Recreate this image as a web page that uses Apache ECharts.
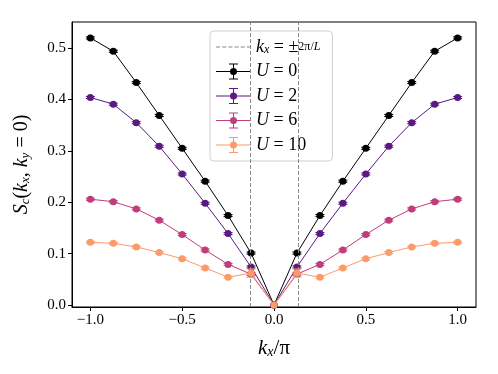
<!DOCTYPE html>
<html>
<head>
<meta charset="utf-8">
<script src="https://cdn.jsdelivr.net/npm/echarts@6/dist/echarts.min.js"></script>
<style>html,body{margin:0;padding:0;background:#fff}#main{width:498px;height:374px}</style>
</head>
<body>
<div id="main"></div>
<script>
// k_x / pi 取值
var kx = [-1, -0.875, -0.75, -0.625, -0.5, -0.375, -0.25, -0.125, 0, 0.125, 0.25, 0.375, 0.5, 0.625, 0.75, 0.875, 1];
var u0 = [0.520, 0.494, 0.433, 0.369, 0.305, 0.241, 0.174, 0.101, 0, 0.101, 0.174, 0.241, 0.305, 0.369, 0.433, 0.494, 0.520];
var u2 = [0.404, 0.391, 0.355, 0.309, 0.255, 0.198, 0.139, 0.074, 0, 0.074, 0.139, 0.198, 0.255, 0.309, 0.355, 0.391, 0.404];
var u6 = [0.206, 0.201, 0.187, 0.165, 0.137, 0.107, 0.079, 0.060, 0, 0.060, 0.079, 0.107, 0.137, 0.165, 0.187, 0.201, 0.206];
var u10 = [0.122, 0.120, 0.113, 0.102, 0.090, 0.072, 0.054, 0.062, 0, 0.062, 0.054, 0.072, 0.090, 0.102, 0.113, 0.120, 0.122];
var e0 = [0.002, 0.002, 0.002, 0.002, 0.002, 0.002, 0.002, 0.002, 0, 0.002, 0.002, 0.002, 0.002, 0.002, 0.002, 0.002, 0.002];
var e2 = [0.002, 0.002, 0.002, 0.002, 0.002, 0.002, 0.002, 0.002, 0, 0.002, 0.002, 0.002, 0.002, 0.002, 0.002, 0.002, 0.002];
var e6 = [0.002, 0.002, 0.002, 0.002, 0.002, 0.002, 0.002, 0.003, 0, 0.003, 0.002, 0.002, 0.002, 0.002, 0.002, 0.002, 0.002];
var e10 = [0.002, 0.002, 0.002, 0.002, 0.002, 0.002, 0.002, 0.008, 0, 0.008, 0.002, 0.002, 0.002, 0.002, 0.002, 0.002, 0.002];
var vlines = [-0.125, 0.125];
var xTicks = [-1, -0.5, 0, 0.5, 1];
var yTicks = [0, 0.1, 0.2, 0.3, 0.4, 0.5];

var names = ['U0', 'U2', 'U6', 'U10'];
var colors = ['#000000', '#5a1a82', '#c23b7a', '#fc9a6a'];
var ys = [u0, u2, u6, u10];
var errs = [e0, e2, e6, e10];

var serif = 'Liberation Serif';
var ebIcon = 'path://M0,7.5 H35 V8.5 H0 Z M17,0 H18 V16 H17 Z M13,0 H22 V1 H13 Z M13,15 H22 V16 H13 Z M17.5,4.5 A3.5,3.5 0 1,1 17.5,11.5 A3.5,3.5 0 1,1 17.5,4.5 Z';
var dashIcon = 'path://M0,0 H4 V1 H0 Z M6,0 H10 V1 H6 Z M12,0 H16 V1 H12 Z M18,0 H22 V1 H18 Z M24,0 H28 V1 H24 Z M30,0 H34 V1 H30 Z';

function fmt(v) {
    return (v < 0 ? '\u2212' : '') + Math.abs(v).toFixed(1);
}

var series = [{
    name: 'kx',
    type: 'line',
    data: [],
    symbol: 'none',
    itemStyle: { color: '#888' },
    lineStyle: { color: '#888', type: [4, 2], width: 1 },
    markLine: {
        silent: true,
        symbol: 'none',
        label: { show: false },
        lineStyle: { color: '#888', type: [4, 2], width: 1 },
        data: vlines.map(function (v) { return { xAxis: v }; })
    }
}];

names.forEach(function (n, i) {
    var pts = kx.map(function (x, j) { return [x, ys[i][j]]; });
    series.push({
        name: n,
        type: 'line',
        data: pts,
        symbol: 'circle',
        symbolSize: 7,
        color: colors[i],
        lineStyle: { width: 1, color: colors[i] },
        itemStyle: { color: colors[i] },
        z: 3 + i
    });
    series.push({
        name: n,
        type: 'custom',
        data: kx.map(function (x, j) { return [x, ys[i][j], errs[i][j]]; }),
        encode: { x: 0, y: 1 },
        z: 3 + i,
        renderItem: function (params, api) {
            var x = api.value(0), y = api.value(1), e = api.value(2);
            if (!e) return null;
            var top = api.coord([x, y + e]);
            var bot = api.coord([x, y - e]);
            var st = { stroke: colors[i], lineWidth: 1 };
            return {
                type: 'group',
                children: [
                    { type: 'line', shape: { x1: top[0], y1: top[1], x2: bot[0], y2: bot[1] }, style: st },
                    { type: 'line', shape: { x1: top[0] - 4.5, y1: top[1], x2: top[0] + 4.5, y2: top[1] }, style: st },
                    { type: 'line', shape: { x1: bot[0] - 4.5, y1: bot[1], x2: bot[0] + 4.5, y2: bot[1] }, style: st }
                ]
            };
        }
    });
});

var legendText = {
    kx: '{i|k}{s|x}{n| = \u00b1}{f|2\u03c0/}{fi|L}',
    U0: '{i|U}{n| = 0}',
    U2: '{i|U}{n| = 2}',
    U6: '{i|U}{n| = 6}',
    U10: '{i|U}{n| = 10}'
};

var myChart = echarts.init(document.getElementById('main'));
var option = {
    animation: false,
    textStyle: { fontFamily: serif },
    grid: {
        left: 72, right: 22, top: 22, bottom: 67,
        show: true, borderColor: '#000', borderWidth: 1
    },
    legend: {
        orient: 'vertical',
        left: 210,
        top: 31,
        itemWidth: 35,
        itemHeight: 16,
        itemGap: 6.5,
        padding: [7, 12, 7, 6],
        backgroundColor: 'rgba(255,255,255,0.8)',
        borderColor: '#d0d0d0',
        borderWidth: 1,
        borderRadius: 4,
        selectedMode: false,
        data: [
            { name: 'kx', icon: dashIcon, itemStyle: { color: '#888' } },
            { name: 'U0', icon: ebIcon },
            { name: 'U2', icon: ebIcon },
            { name: 'U6', icon: ebIcon },
            { name: 'U10', icon: ebIcon }
        ],
        formatter: function (n) { return legendText[n]; },
        textStyle: {
            rich: {
                i: { fontFamily: serif, fontStyle: 'italic', fontSize: 18, color: '#000' },
                n: { fontFamily: serif, fontSize: 18, color: '#000' },
                s: { fontFamily: serif, fontStyle: 'italic', fontSize: 12, color: '#000', verticalAlign: 'bottom', padding: [6, 0, 0, 0] },
                f: { fontFamily: serif, fontSize: 12, color: '#000' },
                fi: { fontFamily: serif, fontStyle: 'italic', fontSize: 12, color: '#000' }
            }
        }
    },
    xAxis: {
        type: 'value',
        min: -1.1,
        max: 1.1,
        name: '{i|k}{s|x}{n|/\u03c0}',
        nameLocation: 'middle',
        nameGap: 30,
        nameTextStyle: {
            rich: {
                i: { fontFamily: serif, fontStyle: 'italic', fontSize: 21, color: '#000' },
                n: { fontFamily: serif, fontSize: 21, color: '#000' },
                s: { fontFamily: serif, fontStyle: 'italic', fontSize: 14, color: '#000', verticalAlign: 'bottom', padding: [8, 0, 0, 0] }
            }
        },
        splitLine: { show: false },
        axisLine: { show: true, onZero: false, lineStyle: { color: '#000' } },
        axisTick: { show: true, customValues: xTicks, length: 4, lineStyle: { color: '#000' } },
        axisLabel: { customValues: xTicks, formatter: fmt, fontSize: 15, color: '#000', margin: 6 }
    },
    yAxis: {
        type: 'value',
        min: -0.004,
        max: 0.551,
        name: '{i|S}{s|c}{n|(}{i|k}{s|x}{n|, }{i|k}{s|y}{n| = 0)}',
        nameLocation: 'middle',
        nameRotate: 90,
        nameGap: 40,
        nameTextStyle: {
            rich: {
                i: { fontFamily: serif, fontStyle: 'italic', fontSize: 20, color: '#000' },
                n: { fontFamily: serif, fontSize: 20, color: '#000' },
                s: { fontFamily: serif, fontStyle: 'italic', fontSize: 13, color: '#000', verticalAlign: 'bottom', padding: [8, 0, 0, 0] }
            }
        },
        splitLine: { show: false },
        axisLine: { show: true, onZero: false, lineStyle: { color: '#000' } },
        axisTick: { show: true, customValues: yTicks, length: 4, lineStyle: { color: '#000' } },
        axisLabel: { customValues: yTicks, formatter: fmt, fontSize: 15, color: '#000', margin: 6 }
    },
    series: series
};
myChart.setOption(option);
window.addEventListener('resize', function () {
    myChart.resize();
});
</script>
</body>
</html>
